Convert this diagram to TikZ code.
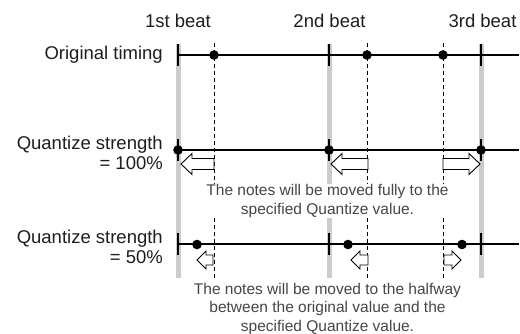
\documentclass[tikz,border=0pt]{standalone}
\usepackage{fontspec}
\setmainfont{Liberation Sans}
\usepackage{xcolor}
\usetikzlibrary{math}
\definecolor{barg}{RGB}{204,204,204}
\definecolor{noteg}{RGB}{70,70,70}
\definecolor{labk}{RGB}{30,30,30}

\tikzset{
 beatbar/.style={draw=barg, line width=5pt},
 quantdash/.style={dash pattern=on 4pt off 3pt, line width=0.8pt},
 timeline/.style={line width=2pt},
 beattick/.style={line width=2.5pt},
 hollow/.style={draw, fill=white, line width=0.9pt, line join=miter},
 rowlabel/.style={anchor=east, align=right, text=labk, font=\fontsize{18.5}{20}\selectfont, inner sep=0pt},
 beatlabel/.style={text=labk, font=\fontsize{18.5}{20}\selectfont, inner sep=0pt},
 remark/.style={text=noteg, fill=white, align=center, font=\fontsize{15.5}{18.5}\selectfont, inner sep=1pt},
}

\begin{document}
\begin{tikzpicture}[x=1pt,y=-1pt]
\useasboundingbox (0,0) rectangle (520,334);

\tikzmath{
\yO = 55;%original timing
\yF = 150;%strength 100
\yH = 244.5;%strength 50
\yT = 44;
\yB = 278;
\xE = 519;
\r = 4.8;
}

%beats and quantize grid:
\foreach \b in {178,329,481}{
 \draw[beatbar] (\b,\yT) -- (\b,\yB);
 }
\foreach \n in {214,367,443}{
 \draw[quantdash] (\n,\yT-1) -- (\n,\yB);
 }

\node[remark] (full) at (327.5,201) {The notes will be moved fully to the\\specified Quantize value.};
\node[remark] (half) at (327.5,308.5) {The notes will be moved to the halfway\\between the original value and the\\specified Quantize value.};

%time lines:
\foreach \y in {\yO,\yF,\yH}{
 \coordinate (L) at (178,\y);
 \coordinate (R) at (\xE,\y);
 \draw[timeline] (L) -- (R);
 \foreach \b in {178,329,481}{
  \draw[beattick] (\b,\y-11) -- (\b,\y+11);
  }
 }

%notes:
\foreach \n in {214,367,443}{
 \fill (\n,\yO) circle (\r);
 }
\foreach \n in {178,329,481}{
 \fill (\n,\yF) circle (\r);
 }
\foreach \n in {197,348,462}{
 \fill (\n,\yH) circle (\r);
 }

%moves:
\foreach \t/\h/\yc/\w/\hw/\hl in {214/181/164/5.5/10.5/11, 368/331/164/5.5/10.5/11, 443/480/164/5.5/10.5/11,
 213/197/260/5/9/9, 368/351/260/5/9/9, 444/461/260/5/9/9}{
 \tikzmath{
  \d = (\h-\t)/abs(\h-\t);
  \bx = \h-\d*\hl;
  }
 \draw[hollow] (\t,\yc-\w) -- (\bx,\yc-\w) -- (\bx,\yc-\hw) -- (\h,\yc) -- (\bx,\yc+\hw) -- (\bx,\yc+\w) -- (\t,\yc+\w) -- cycle;
 }

\node[beatlabel] (first) at (178,21) {1st beat};
\node[beatlabel] (second) at (329.5,21) {2nd beat};
\node[beatlabel] (third) at (482.5,21) {3rd beat};

\node[rowlabel] (orig) at (163,55) {Original timing};
\node[rowlabel] (qfull) at (163,153) {Quantize strength\\= 100\%};
\node[rowlabel] (qhalf) at (163,246.5) {Quantize strength\\= 50\%};

\end{tikzpicture}
\end{document}
